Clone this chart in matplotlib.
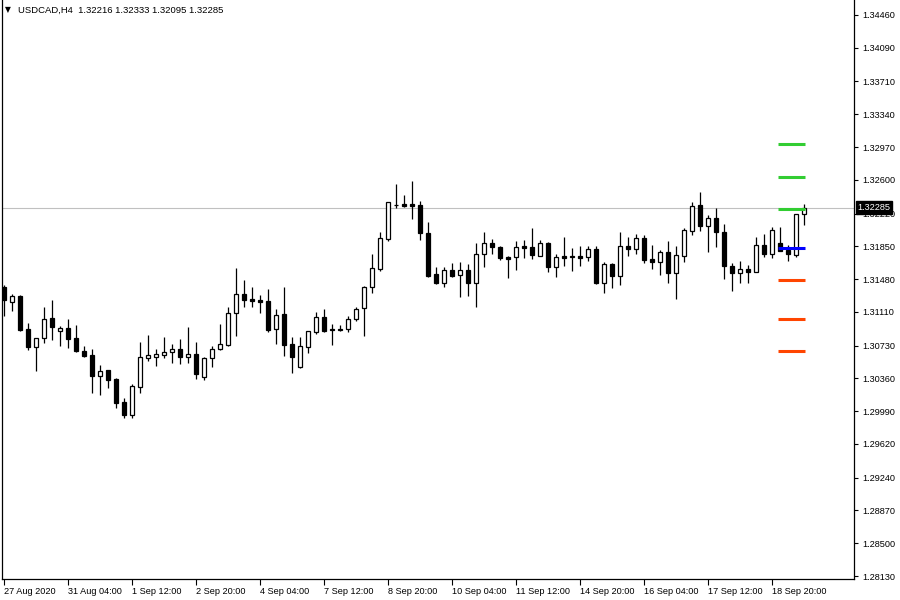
import matplotlib
matplotlib.use('Agg')
import matplotlib.pyplot as plt
import numpy as np
from matplotlib.transforms import blended_transform_factory

plt.rcParams['font.family'] = ['Liberation Sans', 'DejaVu Sans']

symbol = "USDCAD,H4"

opens = [
    1.31391, 1.31226, 1.31290, 1.30917, 1.30717, 1.30813, 1.31038, 1.30892, 1.30925, 1.30813,
    1.30669, 1.30624, 1.30391, 1.30455, 1.30357, 1.30094, 1.29947, 1.30266, 1.30594, 1.30605,
    1.30628, 1.30655, 1.30692, 1.30605, 1.30635, 1.30379, 1.30587, 1.30688, 1.30737, 1.31095,
    1.31313, 1.31256, 1.31245, 1.31233, 1.30914, 1.31087, 1.30745, 1.30485, 1.30717, 1.30887,
    1.31049, 1.30917, 1.30910, 1.30921, 1.31027, 1.31151, 1.31388, 1.31595, 1.31930, 1.32320,
    1.32328, 1.32328, 1.32317, 1.32004, 1.31535, 1.31433, 1.31583, 1.31527, 1.31583, 1.31433,
    1.31760, 1.31884, 1.31839, 1.31727, 1.31727, 1.31854, 1.31839, 1.31741, 1.31884, 1.31614,
    1.31741, 1.31735, 1.31738, 1.31727, 1.31817, 1.31440, 1.31651, 1.31519, 1.31854, 1.31817,
    1.31941, 1.31704, 1.31677, 1.31786, 1.31553, 1.31745, 1.32027, 1.32317, 1.32083, 1.32167,
    1.32015, 1.31628, 1.31553, 1.31591, 1.31564, 1.31862, 1.31760, 1.31884, 1.31809, 1.31752,
    1.32216]

highs = [
    1.31414, 1.31313, 1.31302, 1.30989, 1.30820, 1.31166, 1.31245, 1.30951, 1.31027, 1.30963,
    1.30726, 1.30692, 1.30511, 1.30460, 1.30368, 1.30142, 1.30297, 1.30774, 1.30850, 1.30692,
    1.30831, 1.30748, 1.30805, 1.30943, 1.30774, 1.30605, 1.30726, 1.30974, 1.31162, 1.31602,
    1.31470, 1.31388, 1.31302, 1.31365, 1.31140, 1.31388, 1.30824, 1.30824, 1.30895, 1.31109,
    1.31140, 1.30974, 1.30959, 1.31064, 1.31169, 1.31403, 1.31764, 1.32012, 1.32354, 1.32554,
    1.32429, 1.32587, 1.32365, 1.32128, 1.31620, 1.31620, 1.31659, 1.31670, 1.31648, 1.31884,
    1.32012, 1.31933, 1.31854, 1.31741, 1.31914, 1.31922, 1.32054, 1.31922, 1.31903, 1.31764,
    1.31952, 1.31828, 1.31854, 1.31854, 1.31854, 1.31677, 1.31666, 1.32015, 1.31952, 1.31989,
    1.31978, 1.31865, 1.31809, 1.31910, 1.31854, 1.32054, 1.32350, 1.32463, 1.32204, 1.32279,
    1.32099, 1.31659, 1.31685, 1.31640, 1.31952, 1.31986, 1.32065, 1.32065, 1.31865, 1.32216,
    1.32333]

lows = [
    1.31064, 1.31124, 1.30895, 1.30681, 1.30447, 1.30763, 1.30793, 1.30726, 1.30700, 1.30662,
    1.30598, 1.30199, 1.30173, 1.30255, 1.30030, 1.29917, 1.29917, 1.30199, 1.30556, 1.30500,
    1.30594, 1.30537, 1.30523, 1.30537, 1.30350, 1.30342, 1.30492, 1.30685, 1.30729, 1.30842,
    1.31162, 1.31162, 1.31101, 1.30887, 1.30748, 1.30613, 1.30424, 1.30480, 1.30650, 1.30861,
    1.30887, 1.30740, 1.30898, 1.30887, 1.31008, 1.30842, 1.31327, 1.31575, 1.31914, 1.32279,
    1.32297, 1.32155, 1.31922, 1.31508, 1.31430, 1.31395, 1.31501, 1.31282, 1.31290, 1.31169,
    1.31620, 1.31760, 1.31696, 1.31490, 1.31583, 1.31715, 1.31704, 1.31738, 1.31564, 1.31508,
    1.31628, 1.31575, 1.31628, 1.31688, 1.31425, 1.31327, 1.31383, 1.31414, 1.31741, 1.31764,
    1.31666, 1.31591, 1.31527, 1.31440, 1.31253, 1.31677, 1.31978, 1.32027, 1.31790, 1.31846,
    1.31478, 1.31350, 1.31440, 1.31440, 1.31560, 1.31733, 1.31715, 1.31798, 1.31685, 1.31733,
    1.32095]

closes = [
    1.31245, 1.31290, 1.30906, 1.30717, 1.30816, 1.31027, 1.30943, 1.30925, 1.30808, 1.30673,
    1.30616, 1.30391, 1.30444, 1.30342, 1.30086, 1.29951, 1.30274, 1.30598, 1.30624, 1.30635,
    1.30658, 1.30692, 1.30605, 1.30635, 1.30413, 1.30590, 1.30688, 1.30745, 1.31095, 1.31309,
    1.31248, 1.31237, 1.31226, 1.30906, 1.31072, 1.30740, 1.30605, 1.30722, 1.30892, 1.31049,
    1.30898, 1.30910, 1.30914, 1.31027, 1.31143, 1.31388, 1.31602, 1.31941, 1.32347, 1.32317,
    1.32309, 1.32309, 1.31997, 1.31516, 1.31433, 1.31583, 1.31519, 1.31583, 1.31433, 1.31760,
    1.31884, 1.31839, 1.31715, 1.31711, 1.31846, 1.31835, 1.31752, 1.31884, 1.31620, 1.31727,
    1.31722, 1.31738, 1.31719, 1.31817, 1.31433, 1.31651, 1.31519, 1.31854, 1.31823, 1.31941,
    1.31696, 1.31677, 1.31786, 1.31553, 1.31749, 1.32035, 1.32305, 1.32080, 1.32167, 1.32015,
    1.31632, 1.31553, 1.31591, 1.31564, 1.31862, 1.31760, 1.32035, 1.31801, 1.31760, 1.32216,
    1.32285]

x_label_bars = [0, 8, 16, 24, 32, 40, 48, 56, 64, 72, 80, 88, 96]
x_labels = ["27 Aug 2020", "31 Aug 04:00", "1 Sep 12:00", "2 Sep 20:00", "4 Sep 04:00",
            "7 Sep 12:00", "8 Sep 20:00", "10 Sep 04:00", "11 Sep 12:00", "14 Sep 20:00",
            "16 Sep 04:00", "17 Sep 12:00", "18 Sep 20:00"]

y_ticks = [1.34460, 1.34090, 1.33710, 1.33340, 1.32970, 1.32600, 1.32220, 1.31850, 1.31480,
           1.31110, 1.30730, 1.30360, 1.29990, 1.29620, 1.29240, 1.28870, 1.28500, 1.28130]

pivot_resist = [1.33001, 1.32629, 1.32271]
pivot_point = [1.31828]
pivot_support = [1.31467, 1.31027, 1.30669]
pivot_from_bar = 96.85
pivot_to_bar = 100.2

last_price = closes[-1]

W, H = 900, 600
fig = plt.figure(figsize=(W / 100, H / 100), dpi=100)
ax = fig.add_axes([2 / W, 21 / H, 852 / W, 579 / H])

ax.set_xlim(-0.1875, 106.3125)
ax.set_ylim(1.2809616, 1.3462925)

o = np.array(opens)
c = np.array(closes)
hi = np.array(highs)
lo = np.array(lows)
idx = np.arange(len(o))
up = c >= o

# current price line
ax.axhline(last_price, color='#C0C0C0', lw=0.8, zorder=1)

# wicks
ax.vlines(idx, lo, hi, color='black', lw=0.9, zorder=2)
# bodies
hgt = c - o
hgt = np.where(np.abs(hgt) < 2e-5, np.sign(hgt + 1e-12) * 2e-5, hgt)
ax.bar(idx[up], hgt[up], bottom=o[up], width=0.5, facecolor='white',
       edgecolor='black', linewidth=0.9, zorder=3)
ax.bar(idx[~up], hgt[~up], bottom=o[~up], width=0.5, facecolor='black',
       edgecolor='black', linewidth=0.9, zorder=3)

# pivot levels
ax.hlines(pivot_resist, pivot_from_bar, pivot_to_bar, color='#32CD32', lw=2.2, zorder=4)
ax.hlines(pivot_point, pivot_from_bar, pivot_to_bar, color='#0000FF', lw=2.2, zorder=4)
ax.hlines(pivot_support, pivot_from_bar, pivot_to_bar, color='#FF4500', lw=2.2, zorder=4)

# axes styling
ax.spines['top'].set_visible(False)
for s in ['left', 'right', 'bottom']:
    ax.spines[s].set_color('black')
    ax.spines[s].set_linewidth(0.9)

ax.yaxis.tick_right()
ax.set_yticks(y_ticks)
ax.set_yticklabels([f"{v:.5f}" for v in y_ticks])
ax.tick_params(axis='y', direction='out', length=3, width=0.8, pad=3,
               labelsize=6.6, colors='black')

ax.set_xticks(x_label_bars)
ax.set_xticklabels(x_labels, ha='left')
ax.tick_params(axis='x', direction='out', length=4, width=0.8, pad=2,
               labelsize=6.6, colors='black')
for lab in ax.get_xticklabels():
    lab.set_horizontalalignment('left')

# last price box on the price scale
trans = blended_transform_factory(ax.transAxes, ax.transData)
ax.text(1.0 + 3.5 / 852, last_price, f"{last_price:.5f}", transform=trans,
        ha='left', va='center', fontsize=6.6, color='white', zorder=10,
        bbox=dict(boxstyle='square,pad=0.2', fc='black', ec='black'),
        clip_on=False)

# header
fig.text(5 / W, 1 - 10 / H, "\u25BC", fontsize=5.5, va='center', ha='left',
         family=['DejaVu Sans'])
fig.text(18 / W, 1 - 10 / H,
         f"{symbol}  {opens[-1]:.5f} {highs[-1]:.5f} {lows[-1]:.5f} {closes[-1]:.5f}",
         fontsize=6.8, va='center', ha='left', color='black')

fig.savefig('out.png', dpi=100, facecolor='white')
